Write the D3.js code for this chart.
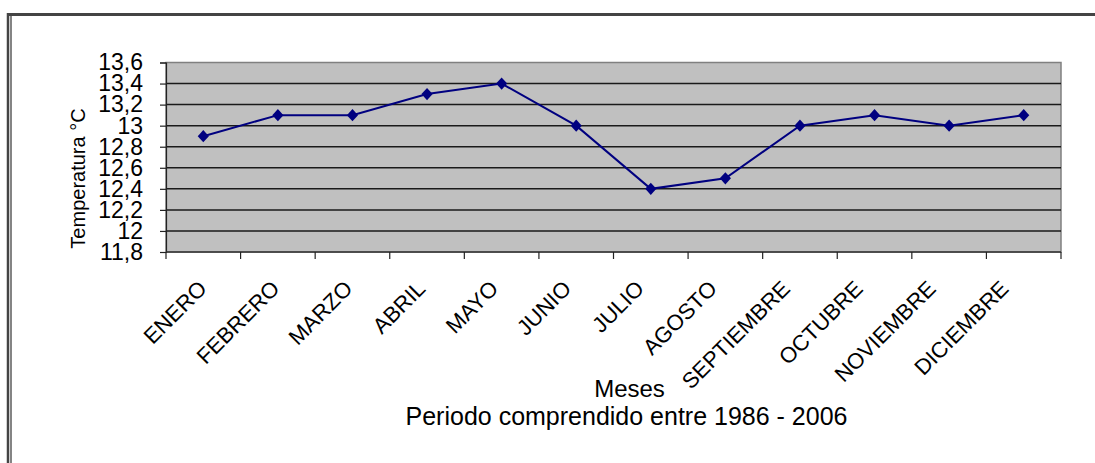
<!DOCTYPE html>
<html>
<head>
<meta charset="utf-8">
<script src="https://cdn.jsdelivr.net/npm/d3@7"></script>
<style>
  html, body { margin: 0; padding: 0; background: #fff; }
  svg { display: block; font-family: "Liberation Sans", Arial, sans-serif; }
</style>
</head>
<body>
<svg id="chart" width="1095" height="463"></svg>
<script>
// Mean monthly temperature, 1986 - 2006
const months = ["ENERO", "FEBRERO", "MARZO", "ABRIL", "MAYO", "JUNIO",
                "JULIO", "AGOSTO", "SEPTIEMBRE", "OCTUBRE", "NOVIEMBRE", "DICIEMBRE"];
const temperatures = [12.9, 13.1, 13.1, 13.3, 13.4, 13.0, 12.4, 12.5, 13.0, 13.1, 13.0, 13.1];
const yTicks = [11.8, 12.0, 12.2, 12.4, 12.6, 12.8, 13.0, 13.2, 13.4, 13.6];
const yTickLabels = ["11,8", "12", "12,2", "12,4", "12,6", "12,8", "13", "13,2", "13,4", "13,6"];
const yTitle = "Temperatura °C";
const xTitle = "Meses";
const subtitle = "Periodo comprendido entre 1986 - 2006";

const svg = d3.select("#chart");
const W = 1095, H = 463;
const plot = { left: 166, right: 1061, top: 62.5, bottom: 252 };

// Outer frame (double line on the left, heavy line on top)
svg.append("line").attr("x1", 8).attr("x2", W).attr("y1", 14.5).attr("y2", 14.5)
  .attr("stroke", "#444").attr("stroke-width", 3);
svg.append("line").attr("x1", 8).attr("x2", 8).attr("y1", 13).attr("y2", H)
  .attr("stroke", "#444").attr("stroke-width", 2.5);
svg.append("line").attr("x1", 11).attr("x2", 11).attr("y1", 16).attr("y2", H)
  .attr("stroke", "#333").attr("stroke-width", 1.2);

const x = d3.scaleBand().domain(months).range([plot.left, plot.right]).padding(0);
const y = d3.scaleLinear().domain([11.8, 13.6]).range([plot.bottom, plot.top]);
// Anchor positions of the slanted month labels
const xLabel = d3.scalePoint().domain(months).range([plot.left + 42, plot.right - 51]);

// Plot area
svg.append("rect")
  .attr("x", plot.left).attr("y", plot.top)
  .attr("width", plot.right - plot.left).attr("height", plot.bottom - plot.top)
  .attr("fill", "#c0c0c0").attr("stroke", "#808080").attr("stroke-width", 1.5);

// Horizontal grid lines
svg.append("g").selectAll("line")
  .data(yTicks.slice(1, -1))
  .join("line")
  .attr("x1", plot.left).attr("x2", plot.right)
  .attr("y1", d => y(d)).attr("y2", d => y(d))
  .attr("stroke", "#1a1a1a").attr("stroke-width", 1.5);

// Y axis
const yAxis = d3.axisLeft(y)
  .tickValues(yTicks)
  .tickFormat((d, i) => yTickLabels[i])
  .tickSize(6).tickPadding(17);
const gy = svg.append("g").attr("transform", `translate(${plot.left},0)`).call(yAxis);
gy.select(".domain").attr("stroke", "#222").attr("stroke-width", 1.2);
gy.selectAll(".tick line").attr("stroke", "#222").attr("stroke-width", 1.2);
gy.selectAll(".tick text").attr("font-size", 23).attr("fill", "#000")
  .attr("font-family", "'Liberation Sans', Arial, sans-serif");

// X axis: ticks on category boundaries
const gx = svg.append("g").attr("transform", `translate(0,${plot.bottom})`);
gx.append("line").attr("x1", plot.left).attr("x2", plot.right)
  .attr("stroke", "#333").attr("stroke-width", 1.5);
const boundaries = months.map(m => x(m)).concat([x(months[months.length - 1]) + x.bandwidth()]);
gx.selectAll("line.tk")
  .data(boundaries)
  .join("line").attr("class", "tk")
  .attr("x1", d => d).attr("x2", d => d).attr("y1", 0).attr("y2", 7)
  .attr("stroke", "#222").attr("stroke-width", 1.2);
gx.selectAll("text")
  .data(months)
  .join("text")
  .attr("transform", d => `translate(${xLabel(d)},${38}) rotate(-45)`)
  .attr("text-anchor", "end")
  .attr("font-size", 22)
  .attr("fill", "#000")
  .text(d => d);

// Axis titles
svg.append("text")
  .attr("transform", "translate(85,178.5) rotate(-90)")
  .attr("text-anchor", "middle").attr("font-size", 20).attr("fill", "#000")
  .text(yTitle);
svg.append("text")
  .attr("x", 629.5).attr("y", 397)
  .attr("text-anchor", "middle").attr("font-size", 24).attr("fill", "#000")
  .text(xTitle);
svg.append("text")
  .attr("x", 626.5).attr("y", 425)
  .attr("text-anchor", "middle").attr("font-size", 25).attr("fill", "#000")
  .text(subtitle);

// Diamond marker: a square turned on its corner, slightly taller than wide
const diamond = {
  draw(ctx, size) {
    const w = Math.sqrt(size) * 0.62, h = Math.sqrt(size) * 0.68;
    ctx.moveTo(0, -h); ctx.lineTo(w, 0); ctx.lineTo(0, h); ctx.lineTo(-w, 0); ctx.closePath();
  }
};

// Series line and markers
const cx = d => x(d) + x.bandwidth() / 2;
const line = d3.line().x((d, i) => cx(months[i])).y(d => y(d));
svg.append("path")
  .datum(temperatures)
  .attr("d", line)
  .attr("fill", "none").attr("stroke", "#000080").attr("stroke-width", 2);
svg.append("g").selectAll("path")
  .data(temperatures)
  .join("path")
  .attr("d", d3.symbol().type(diamond).size(81))
  .attr("transform", (d, i) => `translate(${cx(months[i])},${y(d)})`)
  .attr("fill", "#000080");
</script>
</body>
</html>
